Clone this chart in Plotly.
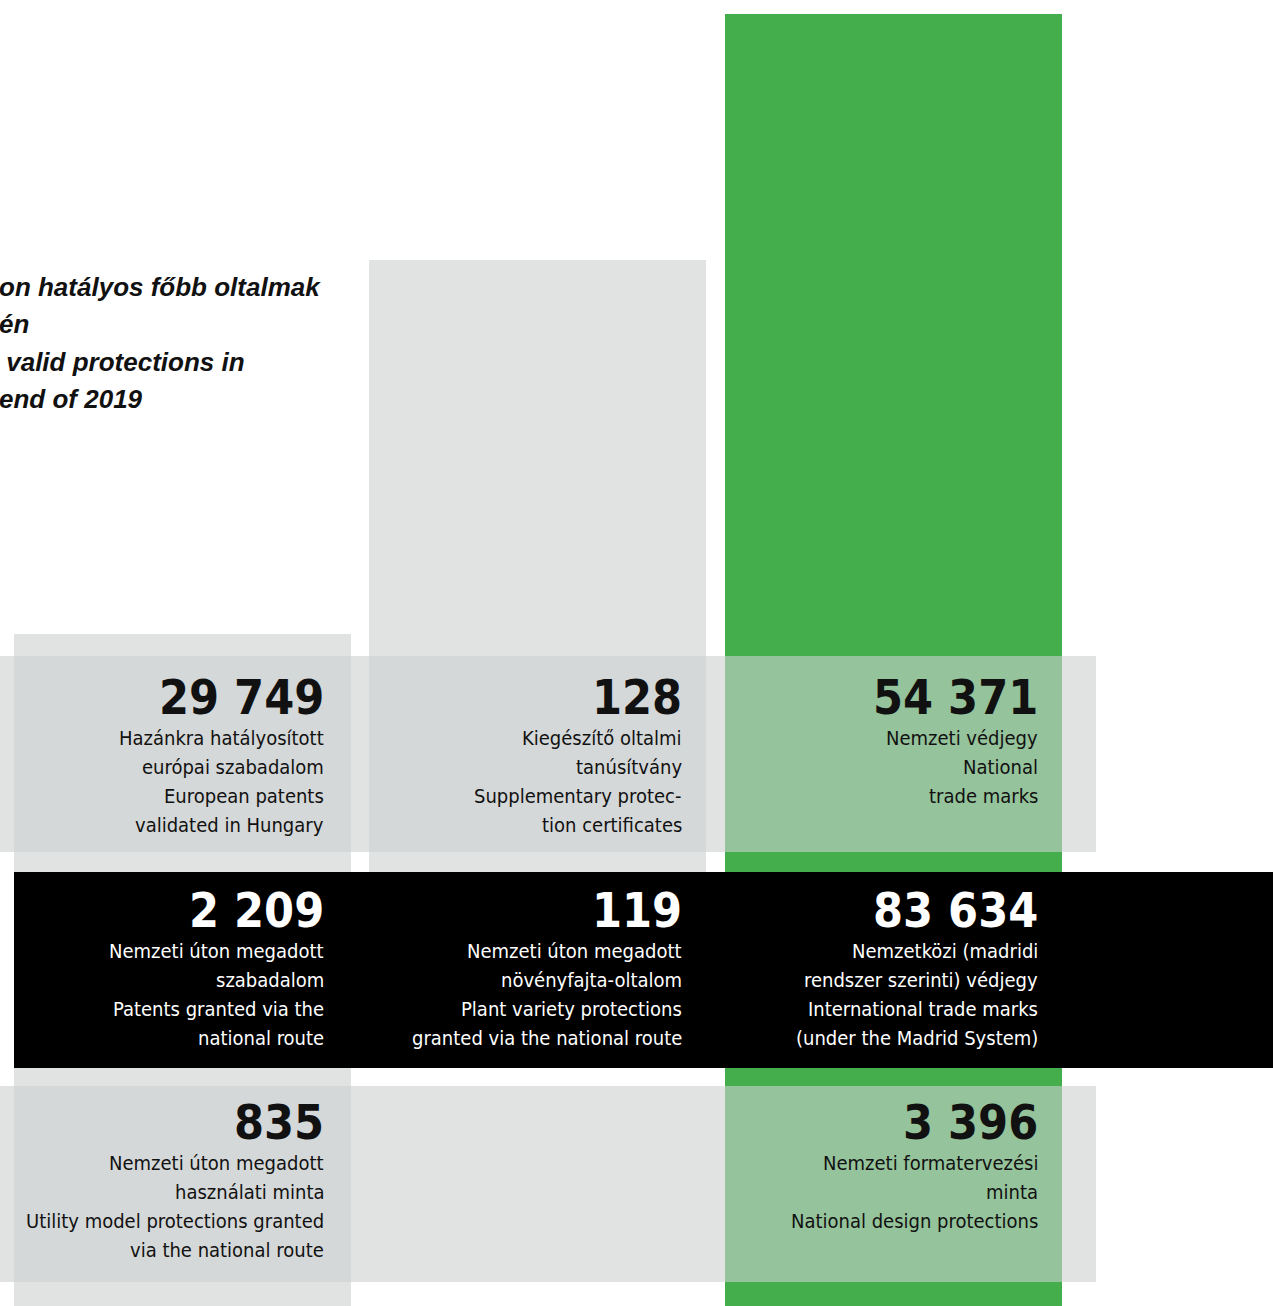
import plotly.graph_objects as go

# ---- data ----
values = ["29 749", "128", "54 371", "2 209", "119", "83 634", "835", None, "3 396"]
labels = [
    ["Hazánkra hatályosított", "európai szabadalom", "European patents", "validated in Hungary"],
    ["Kiegészítő oltalmi", "tanúsítvány", "Supplementary protec-", "tion certificates"],
    ["Nemzeti védjegy", "National", "trade marks"],
    ["Nemzeti úton megadott", "szabadalom", "Patents granted via the", "national route"],
    ["Nemzeti úton megadott", "növényfajta-oltalom", "Plant variety protections", "granted via the national route"],
    ["Nemzetközi (madridi", "rendszer szerinti) védjegy", "International trade marks", "(under the Madrid System)"],
    ["Nemzeti úton megadott", "használati minta", "Utility model protections granted", "via the national route"],
    [],
    ["Nemzeti formatervezési", "minta", "National design protections"],
]
title_lines = ["on hatályos főbb oltalmak", "én", " valid protections in", "end of 2019"]

# ---- layout geometry (pixels) ----
W, H = 1273, 1306
col_x = [(14, 351), (369, 706), (725, 1062)]
col_y = [(634, 1306), (260, 1000), (14, 1306)]
col_colors = ["#e1e3e3", "#e1e3e3", "#43ae4b"]
band_y = [(656, 852), (872, 1068), (1086, 1282)]
band_x = [(0, 1096), (14, 1273), (0, 1096)]
band_colors = ["rgba(205,208,208,0.6)", "#000000", "rgba(205,208,208,0.6)"]
text_right = [325, 683, 1039]
num_y = [697, 910, 1122]
line_y0 = [738, 951, 1163]
line_gap = 29

NARROW = "DejaVu Sans Condensed, Liberation Sans Narrow, sans-serif"

fig = go.Figure()
fig.add_trace(go.Scatter(x=[0, W], y=[0, H], mode="markers", marker=dict(opacity=0), hoverinfo="skip", showlegend=False))

shapes = []
for (x0, x1), (y0, y1), c in zip(col_x, col_y, col_colors):
    shapes.append(dict(type="rect", xref="x", yref="y", x0=x0, x1=x1, y0=y0, y1=y1,
                       fillcolor=c, line=dict(width=0), layer="below"))
for (x0, x1), (y0, y1), c in zip(band_x, band_y, band_colors):
    shapes.append(dict(type="rect", xref="x", yref="y", x0=x0, x1=x1, y0=y0, y1=y1,
                       fillcolor=c, line=dict(width=0), layer="below"))

ann = []
for i, (v, lab) in enumerate(zip(values, labels)):
    r, c = divmod(i, 3)
    color = "#ffffff" if r == 1 else "#111111"
    if v:
        ann.append(dict(x=text_right[c], y=num_y[r], xref="x", yref="y", text=f"<b>{v}</b>",
                        showarrow=False, xanchor="right", yanchor="middle", borderpad=0,
                        font=dict(family=NARROW, size=48, color=color)))
    for k, line in enumerate(lab):
        ann.append(dict(x=text_right[c], y=line_y0[r] + k * line_gap, xref="x", yref="y", text=line,
                        showarrow=False, xanchor="right", yanchor="middle", borderpad=0,
                        font=dict(family=NARROW, size=20, color=color)))

title_y = [287, 324, 362, 399]
for t, y in zip(title_lines, title_y):
    ann.append(dict(x=0, y=y, xref="x", yref="y", text=f"<b><i>{t}</i></b>", showarrow=False,
                    xanchor="left", yanchor="middle", xshift=-2, borderpad=0,
                    font=dict(family="Liberation Sans, Arial, sans-serif", size=26, color="#111111")))

fig.update_layout(
    width=W, height=H, margin=dict(l=0, r=0, t=0, b=0),
    paper_bgcolor="white", plot_bgcolor="white",
    xaxis=dict(range=[0, W], visible=False, fixedrange=True),
    yaxis=dict(range=[H, 0], visible=False, fixedrange=True),
    shapes=shapes, annotations=ann, showlegend=False,
)
fig.write_html("out.html", post_script="document.body.style.margin='0';",
               config={"displayModeBar": False})
